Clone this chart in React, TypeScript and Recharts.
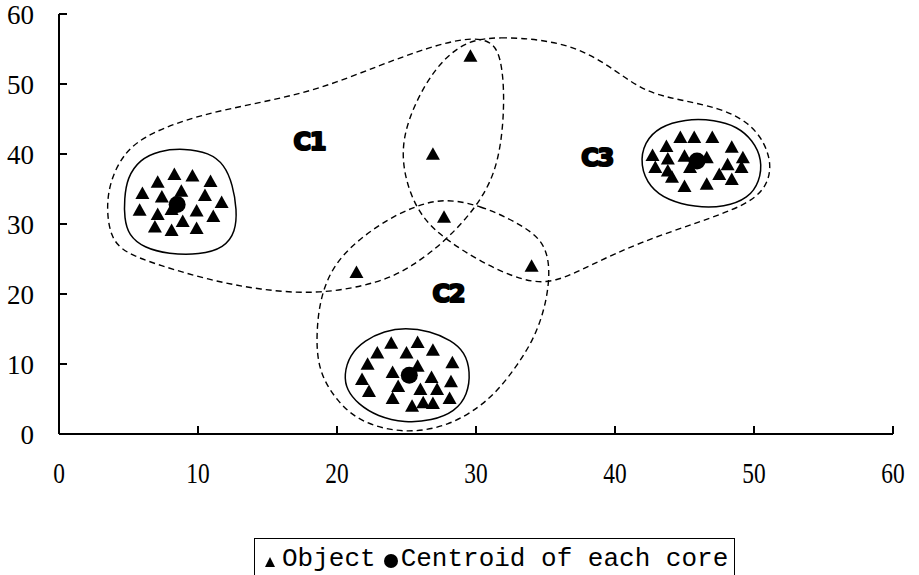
import React from 'react';
import { ComposedChart, Scatter, XAxis, YAxis, Legend } from 'recharts';

type Pt = [number, number];

const xTicks = [0, 10, 20, 30, 40, 50, 60];
const yTicks = [0, 10, 20, 30, 40, 50, 60];

// objects of each dense core
const core1Objects: Pt[] = [
  [8.3, 37.0], [9.6, 36.8], [10.9, 36.0], [7.1, 35.9], [8.8, 34.6], [6.0, 34.3],
  [7.4, 33.8], [10.5, 34.0], [11.7, 33.0], [5.8, 31.9], [9.9, 31.8], [8.1, 32.0],
  [7.1, 31.3], [11.1, 31.0], [8.9, 30.3], [6.9, 29.5], [9.9, 29.3], [8.1, 29.0],
];
const core2Objects: Pt[] = [
  [23.9, 12.9], [25.8, 13.0], [22.9, 11.5], [25.0, 11.5], [26.9, 11.9], [22.2, 9.9],
  [28.3, 10.1], [25.8, 9.6], [24.0, 8.7], [26.8, 8.0], [28.2, 7.4], [21.8, 7.7],
  [24.4, 6.7], [26.0, 6.3], [27.2, 6.3], [22.3, 6.0], [28.1, 5.0], [24.0, 5.0],
  [26.2, 4.4], [25.4, 3.9], [26.9, 4.3],
];
const core3Objects: Pt[] = [
  [44.7, 42.3], [45.7, 42.3], [47.0, 42.3], [43.7, 41.0], [48.4, 40.9], [42.7, 39.7],
  [43.8, 39.2], [45.0, 39.6], [46.6, 39.4], [49.2, 39.4], [48.1, 38.4], [42.9, 38.0],
  [43.8, 37.5], [45.4, 38.0], [49.1, 38.0], [47.5, 37.0], [44.1, 36.6], [48.4, 36.3],
  [45.0, 35.3], [46.6, 35.6],
];
const looseObjects: Pt[] = [[29.6, 53.9], [26.9, 39.9], [27.7, 30.9], [21.4, 23.0], [34.0, 23.9]];

const centroids: Pt[] = [[8.5, 32.8], [25.2, 8.4], [45.9, 39.0]];

// outlines of the cores (solid) and clusters (dashed)
const core1Outline: Pt[] = [
  [4.7, 33.5], [4.9, 36.6], [5.8, 39.2], [7.2, 40.5], [9.0, 40.8], [10.8, 40.2], [11.9, 38.5],
  [12.5, 35.6], [12.8, 32.0], [12.7, 28.9], [11.9, 26.6], [10.1, 25.6], [7.9, 25.7], [6.1, 26.6],
  [5.0, 28.4], [4.7, 30.9],
];
const core2Outline: Pt[] = [
  [20.5, 8.4], [20.9, 11.3], [22.0, 13.4], [23.4, 14.7], [24.9, 15.2], [26.7, 14.7], [28.2, 13.4],
  [29.2, 11.7], [29.6, 8.9], [29.4, 5.6], [28.5, 3.2], [26.8, 1.9], [24.9, 1.6], [22.9, 2.5],
  [21.5, 4.3], [20.7, 6.3],
];
const core3Outline: Pt[] = [
  [41.8, 38.4], [42.1, 41.7], [43.2, 43.9], [45.0, 45.0], [47.2, 44.9], [48.8, 43.9], [49.9, 42.0],
  [50.6, 39.2], [50.4, 36.0], [49.6, 33.7], [47.9, 32.4], [45.7, 32.4], [43.8, 33.4], [42.5, 35.2],
];
const cluster1Outline: Pt[] = [
  [3.7, 36.3], [4.7, 40.3], [6.5, 43.0], [10.1, 45.6], [14.4, 47.3], [18.7, 49.2], [23.1, 52.7],
  [26.7, 55.3], [29.3, 56.6], [31.0, 56.3], [31.8, 54.2], [32.1, 47.7], [31.7, 38.7], [30.3, 33.0],
  [27.9, 27.7], [25.4, 23.9], [23.1, 21.6], [18.7, 19.9], [14.4, 20.6], [10.8, 22.0], [7.2, 24.1],
  [4.7, 25.9], [3.7, 28.1], [3.4, 32.4],
];
const cluster2Outline: Pt[] = [
  [27.6, 33.7], [30.3, 32.7], [33.1, 30.1], [34.8, 27.7], [35.3, 24.4], [35.2, 20.6], [34.8, 17.0],
  [34.1, 13.4], [33.0, 9.9], [31.7, 6.5], [30.3, 3.9], [28.1, 1.2], [25.0, 0.0], [21.8, 1.5],
  [20.0, 4.6], [18.6, 9.1], [18.5, 14.9], [18.9, 20.6], [20.2, 25.6], [23.1, 30.1], [25.4, 32.4],
];
const cluster3Outline: Pt[] = [
  [29.5, 56.3], [31.7, 56.7], [34.6, 56.4], [37.5, 55.1], [40.0, 52.0], [42.1, 48.9], [44.7, 47.7],
  [47.5, 46.6], [49.6, 44.6], [50.8, 41.6], [51.3, 38.1], [50.8, 34.9], [49.3, 32.6], [46.1, 30.3],
  [41.8, 27.4], [38.2, 24.1], [35.7, 21.6], [33.5, 21.7], [30.3, 24.6], [27.9, 27.7], [26.2, 30.6],
  [25.1, 34.9], [24.6, 40.1], [25.1, 44.9], [26.3, 49.9], [27.7, 53.7],
];

const clusterNames = ['C1', 'C2', 'C3'];
const clusterLabelPos: Pt[] = [[18.0, 41.7], [28.0, 20.0], [38.7, 39.4]];

const toPts = (arr: Pt[]) => arr.map(([x, y]) => ({ x, y }));
const objects = toPts([...core1Objects, ...core2Objects, ...core3Objects, ...looseObjects]);
const labels = clusterLabelPos.map(([x, y], i) => ({ x, y, name: clusterNames[i] }));

const noShape = () => <g />;

const triangleShape = (p: any) => (
  <polygon
    points={`${p.cx},${p.cy - 7.5} ${p.cx + 7},${p.cy + 5} ${p.cx - 7},${p.cy + 5}`}
    fill="#000"
  />
);

const centroidShape = (p: any) => <circle cx={p.cx} cy={p.cy} r={8.5} fill="#000" />;

const labelShape = (p: any) => (
  <text
    x={p.cx}
    y={p.cy}
    textAnchor="middle"
    dominantBaseline="central"
    fontFamily="DejaVu Sans"
    fontWeight={900}
    fontSize={24}
    letterSpacing={-1.5}
    stroke="#000"
    strokeWidth={2.2}
    strokeLinejoin="round"
    fill="#000"
  >
    {p.payload.name}
  </text>
);

function XTick({ x, y, payload }: any) {
  return (
    <text
      transform={`translate(${x},${y}) scale(0.78,1)`}
      textAnchor="middle"
      dy="0.71em"
      fontFamily="Liberation Serif"
      fontSize={30}
      fill="#000"
    >
      {payload.value}
    </text>
  );
}

const legendOrder = ['triangle', 'circle'];

function LegendBox({ payload }: any) {
  const items = (payload || [])
    .filter((p: any) => legendOrder.includes(p.type))
    .sort((a: any, b: any) => legendOrder.indexOf(a.type) - legendOrder.indexOf(b.type));
  return (
    <div
      style={{
        border: '1px solid #000',
        height: 50,
        boxSizing: 'border-box',
        display: 'flex',
        alignItems: 'flex-start',
        paddingTop: 5,
        paddingLeft: 10,
        fontFamily: 'Liberation Mono',
        fontSize: 26,
        lineHeight: '30px',
        color: '#000',
        whiteSpace: 'nowrap',
      }}
    >
      {items.map((it: any) => (
        <span key={it.value} style={{ display: 'flex', alignItems: 'flex-start', marginRight: 8 }}>
          {it.type === 'triangle' ? (
            <svg width={10} height={30} style={{ marginRight: 7 }}>
              <polygon points="0,23 10,23 5,13" fill="#000" />
            </svg>
          ) : (
            <svg width={14} height={30} style={{ marginRight: 3 }}>
              <circle cx={7} cy={17} r={7} fill="#000" />
            </svg>
          )}
          <span>{it.value}</span>
        </span>
      ))}
    </div>
  );
}

const dashed = { stroke: '#000', strokeWidth: 1.4, strokeDasharray: '6 4' };
const solid = { stroke: '#000', strokeWidth: 1.5 };

export default function App() {
  return (
    <div style={{ width: 919, height: 575, overflow: 'hidden', background: '#fff' }}>
      <style>{'body{margin:0}'}</style>
      <ComposedChart width={919} height={575} margin={{ top: 14, right: 26, bottom: 81, left: 0 }}>
        <XAxis
          type="number"
          dataKey="x"
          domain={[0, 60]}
          ticks={xTicks}
          interval={0}
          height={60}
          tickSize={-8}
          tickMargin={36}
          axisLine={{ stroke: '#000', strokeWidth: 2 }}
          tickLine={{ stroke: '#000', strokeWidth: 2 }}
          tick={<XTick />}
        />
        <YAxis
          type="number"
          dataKey="y"
          domain={[0, 60]}
          ticks={yTicks}
          interval={0}
          width={59}
          tickSize={-8}
          tickMargin={33}
          axisLine={{ stroke: '#000', strokeWidth: 2 }}
          tickLine={{ stroke: '#000', strokeWidth: 2 }}
          tick={{ fontFamily: 'Liberation Serif', fontSize: 27, fill: '#000' }}
        />

        {[cluster1Outline, cluster2Outline, cluster3Outline].map((o, i) => (
          <Scatter
            key={`d${i}`}
            data={toPts(o)}
            line={dashed}
            lineJointType="basisClosed"
            shape={noShape}
            legendType="none"
            isAnimationActive={false}
          />
        ))}
        {[core1Outline, core2Outline, core3Outline].map((o, i) => (
          <Scatter
            key={`s${i}`}
            data={toPts(o)}
            line={solid}
            lineJointType="basisClosed"
            shape={noShape}
            legendType="none"
            isAnimationActive={false}
          />
        ))}

        <Scatter
          name="Object"
          data={objects}
          fill="#000"
          shape={triangleShape}
          legendType="triangle"
          isAnimationActive={false}
        />
        <Scatter
          name="Centroid of each core"
          data={toPts(centroids)}
          fill="#000"
          shape={centroidShape}
          legendType="circle"
          isAnimationActive={false}
        />
        <Scatter data={labels} shape={labelShape} legendType="none" isAnimationActive={false} />
        <Legend
          layout="vertical"
          align="center"
          verticalAlign="middle"
          content={<LegendBox />}
          wrapperStyle={{ left: 254, top: 538, width: 481, height: 50 }}
        />
      </ComposedChart>
    </div>
  );
}
